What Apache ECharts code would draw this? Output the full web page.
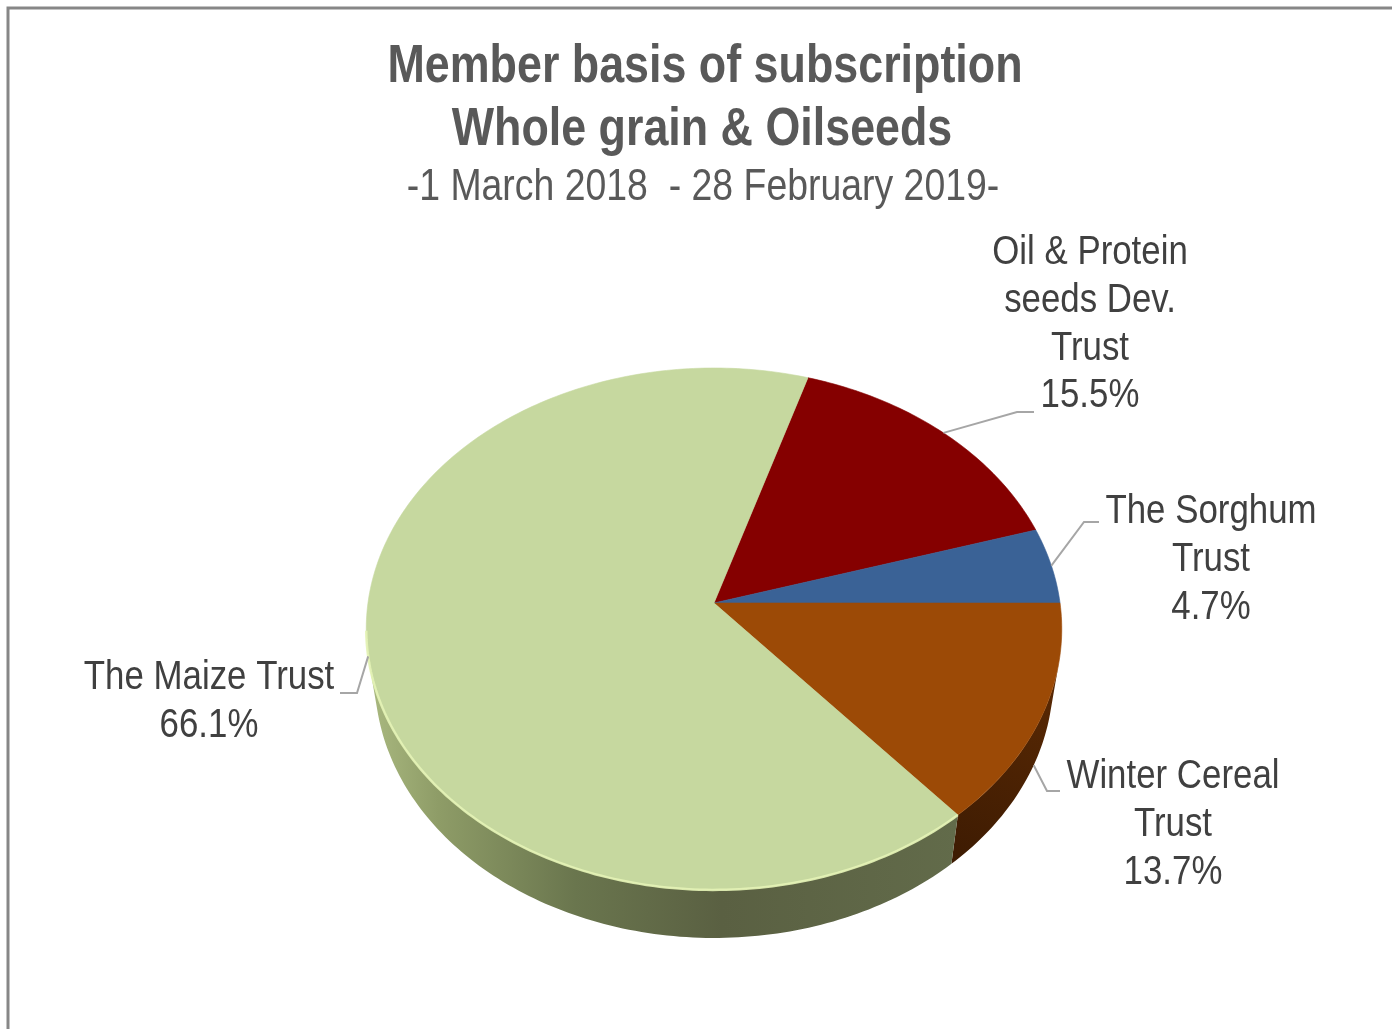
<!DOCTYPE html>
<html>
<head>
<meta charset="utf-8">
<script src="https://cdn.jsdelivr.net/npm/echarts@6/dist/echarts.min.js"></script>
<style>
html,body{margin:0;padding:0;background:#ffffff;}
#chart{width:1392px;height:1029px;}
</style>
</head>
<body>
<div id="chart"></div>
<script>
// ---------------- data ----------------
const categories = ['Oil & Protein seeds Dev. Trust', 'The Sorghum Trust', 'Winter Cereal Trust', 'The Maize Trust'];
const labelLines = [['Oil & Protein', 'seeds Dev.', 'Trust'], ['The Sorghum', 'Trust'], ['Winter Cereal', 'Trust'], ['The Maize Trust']];
const values = [15.5, 4.7, 13.7, 66.1];
const titleLines = ['Member basis of subscription', 'Whole grain & Oilseeds'];
const subtitleText = '-1 March 2018  - 28 February 2019-';

// ---------------- styles / layout ----------------
const topColors = ['#850000', '#3A6296', '#9C4A06', '#C6D89F'];
const wallStops = [
  [[0, '#5a0000'], [1, '#3a0000']],
  [[0, '#27466b'], [1, '#1b3250']],
  [[0, '#5E2B04'], [1, '#3B1A02']],
  [[0, '#AAB980'], [0.12, '#8E9C67'], [0.35, '#6A764E'], [0.6, '#5A6042'], [1, '#626B4A']]
];
const FONT = "'Liberation Sans', Arial, sans-serif";
const TXT = '#404040';
const SX = 0.85;        // narrow-font horizontal scale
const LABEL_SIZE = 41;
const LINE_STEP = 47.7;
const labelLayout = [
  { x: 1090, y: 253, elbow: [1017, 412], end: [1034, 412] },
  { x: 1211, y: 512, elbow: [1084, 522], end: [1099, 522] },
  { x: 1173, y: 777, elbow: [1047, 791], end: [1060, 791] },
  { x: 209,  y: 678, elbow: [357, 693],  end: [340, 693] }
];
// perspective projection of the pie disk
const P = { cx: 714, cy: 603, F: 2315, D: 6.69, phi: 48.3 * Math.PI / 180, h: 0.2245, start: 17.3 * Math.PI / 180 };
const sP = Math.sin(P.phi), cP = Math.cos(P.phi);
function proj(theta, r, Y) {
  const x = r * Math.sin(theta), z = r * Math.cos(theta);
  const v = z * sP + Y * cP;
  const w = z * cP - Y * sP + P.D;
  return [P.cx + P.F * x / w, P.cy - P.F * v / w];
}
const visA = Math.acos(-1 / (P.D * cP));      // wall visible where theta in [visA, 2pi - visA]
const visB = 2 * Math.PI - visA;

const total = values.reduce((a, b) => a + b, 0);
const cum = [];
(function () { let acc = 0; values.forEach(v => { cum.push(acc); acc += v; }); })();

function arcPts(t0, t1, r, Y) {
  const n = Math.max(6, Math.ceil(Math.abs(t1 - t0) / (Math.PI / 180)));
  const pts = [];
  for (let k = 0; k <= n; k++) pts.push(proj(t0 + (t1 - t0) * k / n, r, Y));
  return pts;
}

function renderItem(params, api) {
  const i = params.dataIndex;
  const val = api.value(0);
  const a0 = P.start + cum[i] / total * 2 * Math.PI;
  const a1 = a0 + val / total * 2 * Math.PI;
  const children = [];

  // visible outer wall
  [0, 2 * Math.PI].forEach(off => {
    const s = Math.max(a0, visA + off), e = Math.min(a1, visB + off);
    if (e > s) {
      const topE = arcPts(s, e, 1, 0);
      const botE = arcPts(s, e, 1, -P.h).reverse();
      const grad = (i === 2)
        ? new echarts.graphic.LinearGradient(1060, 640, 950, 880, wallStops[i].map(st => ({ offset: st[0], color: st[1] })), true)
        : new echarts.graphic.LinearGradient(368, 0, 958, 0, wallStops[i].map(st => ({ offset: st[0], color: st[1] })), true);
      children.push({ type: 'polygon', z2: 1, shape: { points: topE.concat(botE) }, style: { fill: grad, stroke: null } });
      if (i === 3) {
        children.push({ type: 'polyline', z2: 3, shape: { points: arcPts(s, Math.min(e + 0.12, a1), 1, 0) },
          style: { stroke: '#E4F3B6', lineWidth: 2.5, fill: null, opacity: 0.9 } });
      }
    }
  });

  // top face
  const topPts = [proj(0, 0, 0)].concat(arcPts(a0, a1, 1, 0));
  children.push({ type: 'polygon', z2: 2, shape: { points: topPts }, style: { fill: topColors[i], stroke: topColors[i], lineWidth: 0.6 } });

  // leader line
  const mid = (a0 + a1) / 2;
  const cm = Math.cos(mid);
  const visibleMid = cm < -1 / (P.D * cP);
  const anchor = proj(mid, 1, visibleMid ? -P.h : 0);
  const L = labelLayout[i];
  children.push({ type: 'polyline', z2: 4, shape: { points: [anchor, L.elbow, L.end] },
    style: { stroke: '#A6A6A6', lineWidth: 2, fill: null } });

  // label text
  const lines = labelLines[i].concat([val.toFixed(1) + '%']);
  lines.forEach((t, k) => {
    children.push({
      type: 'text', z2: 5, x: L.x, y: L.y + k * LINE_STEP, scaleX: SX,
      style: { text: t, x: 0, y: 0, fill: TXT, fontSize: LABEL_SIZE, fontFamily: FONT,
        align: 'center', verticalAlign: 'middle', textAlign: 'center', textVerticalAlign: 'middle' }
    });
  });

  return { type: 'group', children: children };
}

const chart = echarts.init(document.getElementById('chart'), null, { renderer: 'canvas' });

const titleGraphics = [
  { type: 'rect', shape: { x: 8, y: 8, width: 1420, height: 1060 }, style: { fill: null, stroke: '#878787', lineWidth: 3 }, silent: true },
  { type: 'text', x: 705, y: 67, scaleX: 0.83,
    style: { text: titleLines[0], x: 0, y: 0, fill: '#595959', fontSize: 54, fontWeight: 'bold', fontFamily: FONT,
      align: 'center', verticalAlign: 'middle', textAlign: 'center', textVerticalAlign: 'middle' } },
  { type: 'text', x: 702, y: 130, scaleX: 0.83,
    style: { text: titleLines[1], x: 0, y: 0, fill: '#595959', fontSize: 54, fontWeight: 'bold', fontFamily: FONT,
      align: 'center', verticalAlign: 'middle', textAlign: 'center', textVerticalAlign: 'middle' } },
  { type: 'text', x: 703, y: 188, scaleX: 0.85,
    style: { text: subtitleText, x: 0, y: 0, fill: '#595959', fontSize: 44, fontFamily: FONT,
      align: 'center', verticalAlign: 'middle', textAlign: 'center', textVerticalAlign: 'middle' } }
];

chart.setOption({
  backgroundColor: '#ffffff',
  animation: false,
  graphic: titleGraphics,
  series: [{
    type: 'custom',
    coordinateSystem: 'none',
    renderItem: renderItem,
    data: values.map((v, i) => ({ name: categories[i], value: [v] }))
  }]
});
</script>
</body>
</html>
